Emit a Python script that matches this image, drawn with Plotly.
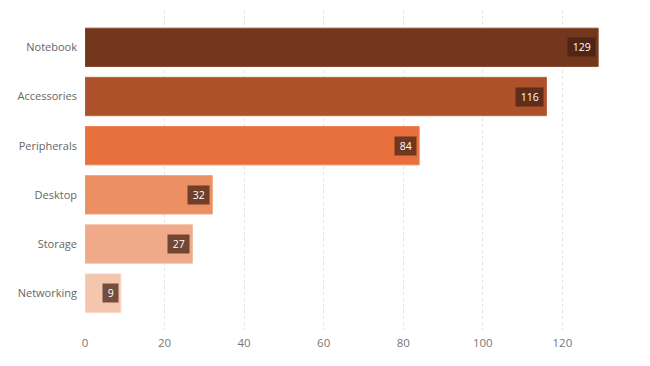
import plotly.graph_objects as go

categories = ["Notebook", "Accessories", "Peripherals", "Desktop", "Storage", "Networking"]
values = [129, 116, 84, 32, 27, 9]
colors = ["#73371D", "#AD512B", "#E8703D", "#EC8F63", "#F0AA8A", "#F5C6AE"]
edge_colors = ["#8A4A2E", "#BE6640", "#EE8456", "#F0A07A", "#F4BB9F", "#F8D4C2"]
x_ticks = [0, 20, 40, 60, 80, 100, 120]

FONT = "Open Sans, Segoe UI, sans-serif"

fig = go.Figure()
fig.add_trace(go.Bar(
    y=categories,
    x=values,
    orientation="h",
    marker=dict(color=colors, line=dict(color=edge_colors, width=1)),
    hoverinfo="x+y",
))

for c, v in zip(categories, values):
    fig.add_annotation(
        x=v, y=c, xref="x", yref="y",
        text=" " + str(v) + " ", showarrow=False,
        xanchor="right", yanchor="middle", xshift=-2,
        font=dict(family=FONT, size=10.5, color="white"),
        bgcolor="rgba(65,32,20,0.72)",
        borderpad=2,
    )

# page body has an 8px default margin, so the figure is sized to fit
fig.update_layout(
    width=642, height=358,
    margin=dict(l=77, r=20, t=2, b=36),
    plot_bgcolor="white", paper_bgcolor="white",
    bargap=0.22,
    showlegend=False,
    font=dict(family=FONT, size=11.5, color="#666"),
)
fig.update_xaxes(
    range=[0, 137],
    tickvals=x_ticks,
    automargin=False,
    showgrid=True, gridcolor="#e2e2e2", griddash="dot", gridwidth=1,
    zeroline=False, showline=False,
    tickfont=dict(family=FONT, size=11.5, color="#777"),
    ticks="", ticklabelstandoff=4,
)
fig.update_yaxes(
    categoryorder="array", categoryarray=categories,
    range=[5.75, -0.76],
    automargin=False,
    showgrid=False, zeroline=False, showline=False,
    ticks="", ticklabelstandoff=7,
    tickfont=dict(family=FONT, size=11, color="#666"),
)

fig.write_html("out.html")
